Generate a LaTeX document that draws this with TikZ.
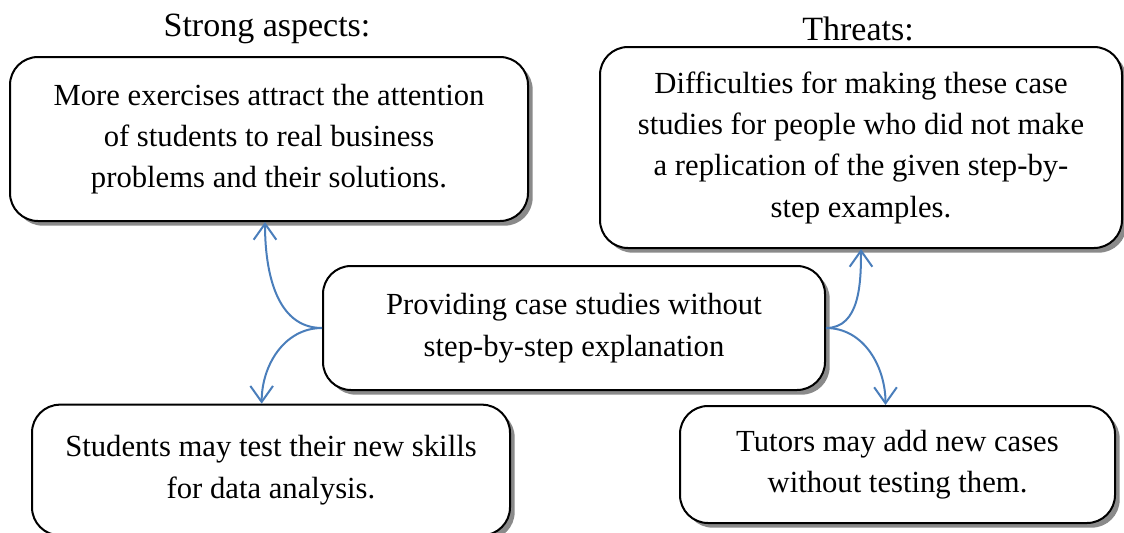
\documentclass[tikz,border=0pt]{standalone}
\usepackage{fontspec}
\setmainfont{Liberation Serif}
\usetikzlibrary{arrows.meta, positioning, shadows}
\definecolor{acblue}{HTML}{4A7EBB}
\definecolor{acshadow}{HTML}{8A8A8A}

\begin{document}
\begin{tikzpicture}[x=0.75pt, y=-0.75pt,
  boxnode/.style={rectangle, draw=black, fill=white, rounded corners=21pt, line width=1.5pt, align=center, inner sep=0pt, font=\fontsize{23}{31}\selectfont, drop shadow={shadow xshift=3.5pt, shadow yshift=-3.5pt, fill=acshadow, opacity=1}},
  titlenode/.style={font=\fontsize{25.5}{28}\selectfont},
  arr/.style={-{Straight Barb[length=12pt, width=17pt]}, line width=1.5pt, acblue},
]
  \useasboundingbox (0,0) rectangle (1124,532);

  % Left side: strong aspects
  \node[titlenode] (ttl1) at (267, 29) {Strong aspects:};
  \node[boxnode, minimum width=388.5pt, minimum height=123pt] (st1) at (269, 139) {More exercises attract the attention\\of students to real business\\problems and their solutions.};
  \node[boxnode, minimum width=358.5pt, minimum height=98pt] (st2) at (271, 470) {Students may test their new skills\\for data analysis.};

  % Right side: threats
  \node[titlenode] (ttl2) at (858, 29) {Threats:};
  \node[boxnode, minimum width=391.5pt, minimum height=150.75pt] (th1) at (861, 147.5) {Difficulties for making these case\\studies for people who did not make\\a replication of the given step-by-\\step examples.};
  \node[boxnode, minimum width=326.25pt, minimum height=87.75pt] (th2) at (897.5, 464.5) {Tutors may add new cases\\without testing them.};

  % Middle
  \node[boxnode, minimum width=376.5pt, minimum height=93pt] (core) at (574, 328) {Providing case studies without\\step-by-step explanation};

  \draw[arr] (core.west) to[out=180, in=-90] ([xshift=-3pt]st1.south);
  \draw[arr] (core.west) to[out=180, in=90] ([xshift=-7pt]st2.north);
  \draw[arr] (core.east) to[out=0, in=-90] (th1.south);
  \draw[arr] (core.east) to[out=0, in=90] ([xshift=-9pt]th2.north);
\end{tikzpicture}
\end{document}
